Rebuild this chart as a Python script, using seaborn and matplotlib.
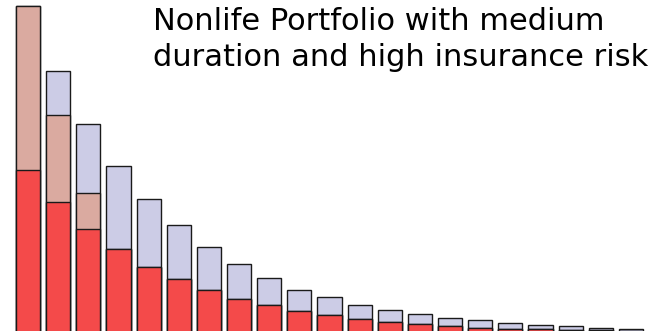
import matplotlib
matplotlib.use("Agg")
import matplotlib.pyplot as plt
import seaborn as sns
import pandas as pd
import numpy as np

# Data (arbitrary units)
buckets = [str(i) for i in range(1, 22)]
red_part = [161.7, 129.7, 103.0, 82.3, 65.3, 53.0, 41.7, 33.0, 27.0, 20.7,
            16.5, 13.0, 10.3, 7.7, 6.0, 4.3, 3.3, 2.7, 2.0, 1.5, 1.0]
rosy_part = [163.3, 86.3, 35.7, 0, 0, 0, 0, 0, 0, 0,
             0, 0, 0, 0, 0, 0, 0, 0, 0, 0, 0]
lavender_part = [0, 44.0, 69.0, 83.7, 67.0, 53.3, 42.6, 34.7, 27.3, 21.6,
                 18.0, 14.0, 11.4, 10.0, 7.7, 7.4, 5.4, 4.6, 3.7, 2.8, 2.0]
title_lines = ["Nonlife Portfolio with medium",
               "duration and high insurance risk"]

red = np.array(red_part)
rosy = np.array(rosy_part)
lav = np.array(lavender_part)
df = pd.DataFrame({
    "bucket": buckets,
    "red": red,
    "red_rosy": red + rosy,
    "total": red + rosy + lav,
})

sns.set_style("white")
fig = plt.figure(figsize=(6.54, 3.31), dpi=100)
ax = fig.add_axes([13 / 654, 0, 633 / 654, 1])

edge = dict(edgecolor="#1a1a1a", linewidth=1.0, width=0.8)
sns.barplot(data=df, x="bucket", y="total", color="#CCCCE6", saturation=1, ax=ax, **edge)
sns.barplot(data=df, x="bucket", y="red_rosy", color="#DAAAA0", saturation=1, ax=ax, **edge)
sns.barplot(data=df, x="bucket", y="red", color="#F44A4A", saturation=1, ax=ax, **edge)

ax.set_xlim(-0.5, len(buckets) - 0.5)
ax.set_ylim(1.0, 331.0)
ax.set_axis_off()

fig.text(153 / 654, 1 - 29.8 / 331, title_lines[0], fontsize=22,
         family="DejaVu Sans", va="baseline", ha="left", color="#000000")
fig.text(153 / 654, 1 - 65.8 / 331, title_lines[1], fontsize=22,
         family="DejaVu Sans", va="baseline", ha="left", color="#000000")

fig.savefig("out.png", dpi=100, facecolor="white")
